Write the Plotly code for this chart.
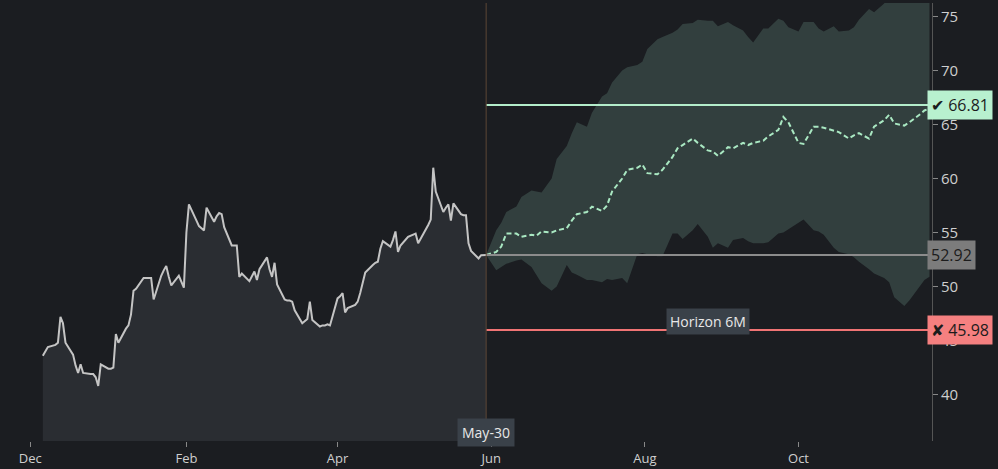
import pandas as pd
import plotly.graph_objects as go

# daily closes, Dec-2023 .. May-30-2024
price = [43.6, 44.0, 44.4, 44.6, 44.8, 47.2, 46.6, 44.8, 43.7, 42.7,
         42.0, 42.8, 42.0, 41.9, 41.9, 41.6, 40.8, 42.8, 42.4, 42.4,
         42.5, 45.6, 44.8, 46.1, 46.4, 47.4, 49.6, 49.8, 50.8, 50.8,
         50.8, 50.8, 48.8, 51.0, 51.5, 51.9, 50.9, 50.1, 51.0, 50.4,
         49.9, 55.0, 57.6, 56.1, 55.6, 55.4, 55.2, 57.3, 56.0, 56.5,
         56.8, 56.7, 55.5, 53.8, 53.8, 53.8, 50.9, 51.2, 50.5, 51.0,
         51.4, 50.6, 51.6, 52.7, 51.6, 50.9, 52.2, 50.2, 48.8, 48.7,
         48.7, 48.6, 47.8, 46.6, 46.8, 47.0, 48.6, 46.9, 46.3, 46.4,
         46.4, 46.5, 46.4, 48.9, 49.1, 49.4, 47.6, 48.0, 48.3, 48.6,
         49.4, 50.4, 51.3, 52.0, 52.2, 52.3, 53.5, 54.2, 53.7, 54.3,
         55.1, 53.2, 53.8, 54.6, 54.7, 54.8, 54.9, 54.0, 55.2, 55.7,
         56.2, 61.0, 58.8, 56.9, 57.3, 57.6, 56.1, 57.7, 56.7, 56.6,
         56.6, 54.0, 53.3, 52.6, 52.9, 52.9, 52.92]

# 6M simulated path: every 2nd trading day from May-30
band_hi = [52.92, 55.2, 55.9, 56.9, 57.4, 58.3, 58.9, 58.8, 58.7, 60.0,
           61.8, 63.0, 64.2, 65.2, 64.8, 66.1, 67.6, 67.9, 68.9, 70.0,
           70.3, 70.5, 70.8, 72.0, 72.9, 73.1, 73.5, 73.8, 74.3, 74.4,
           74.7, 74.6, 74.6, 74.1, 74.5, 74.2, 73.7, 73.1, 72.6, 73.9,
           73.9, 74.8, 74.6, 74.0, 73.6, 74.5, 74.5, 73.9, 73.6, 74.1,
           73.6, 73.7, 74.0, 74.7, 75.7, 75.4, 76.2, 77.0, 77.5, 77.8,
           78.0, 78.2, 78.5, 78.8]
band_lo = [52.92, 51.5, 51.8, 52.1, 52.4, 52.5, 51.8, 51.0, 50.3, 49.6,
           50.0, 52.0, 51.3, 51.1, 50.6, 50.6, 50.4, 50.7, 50.6, 50.8,
           50.3, 53.0, 53.1, 53.0, 52.8, 52.8, 54.9, 54.9, 54.4, 55.2,
           55.8, 54.6, 53.6, 54.0, 53.6, 54.3, 54.5, 54.2, 54.0, 54.0,
           54.1, 54.9, 55.0, 55.3, 55.9, 56.2, 55.2, 55.1, 54.8, 53.6,
           53.2, 53.0, 52.7, 52.3, 51.6, 51.2, 50.8, 50.4, 49.0, 48.2,
           48.7, 49.9, 50.6, 50.9]
median = [52.92, 53.2, 53.7, 54.9, 54.9, 54.6, 54.8, 54.7, 55.1, 55.0,
          55.2, 55.4, 56.1, 56.7, 56.9, 57.4, 57.0, 57.5, 58.8, 60.0,
          60.8, 61.0, 61.3, 60.5, 60.4, 60.8, 62.0, 62.8, 63.1, 63.7,
          63.3, 62.6, 62.5, 62.1, 62.9, 62.8, 63.3, 63.1, 63.3, 63.5,
          63.9, 64.5, 65.7, 65.2, 63.3, 63.2, 64.8, 64.8, 64.7, 64.4,
          64.3, 63.7, 64.0, 64.2, 63.7, 64.8, 65.4, 65.9, 65.1, 64.9,
          65.2, 65.9, 66.3, 66.5]

last_date = "2024-05-30"
last_price = 52.92
target_up = 66.81
target_down = 45.98
x_range = ["2023-11-19", "2024-11-23"]
y_range = [35.7, 76.25]

bg = "#1b1d21"

price_dates = pd.bdate_range(end=last_date, periods=len(price))
fc_dates = pd.bdate_range(start=last_date, periods=len(median), freq="2B")
fc_end = fc_dates[-1]

fig = go.Figure()

# history
fig.add_trace(go.Scatter(x=price_dates, y=price, mode="lines",
                         line=dict(color="#c4c4c4", width=2),
                         fill="tozeroy", fillcolor="#2a2d32"))

# forecast band + median
fig.add_trace(go.Scatter(x=fc_dates, y=band_hi, mode="lines",
                         line=dict(width=0), hoverinfo="skip"))
fig.add_trace(go.Scatter(x=fc_dates, y=band_lo, mode="lines",
                         line=dict(width=0), fill="tonexty",
                         fillcolor="#323f3e", hoverinfo="skip"))
fig.add_trace(go.Scatter(x=fc_dates, y=median, mode="lines",
                         line=dict(color="#a9e8c2", width=2, dash="5px,3px")))

# level lines
for lvl, col in [(target_up, "#b3ecca"), (last_price, "#8c8c8c"), (target_down, "#f07474")]:
    fig.add_shape(type="line", xref="x", yref="y", x0=last_date, x1=fc_end,
                  y0=lvl, y1=lvl, line=dict(color=col, width=2))

# today marker
fig.add_shape(type="line", xref="x", yref="paper", x0=last_date, x1=last_date,
              y0=0, y1=1, line=dict(color="#5c4636", width=1))

# right-side value tags
tags = [(target_up, "\u2714 66.81", "#b8f0cf"),
        (last_price, "52.92", "#7c7c7c"),
        (target_down, "\u2718 45.98", "#f58080")]
for lvl, txt, col in tags:
    fig.add_annotation(x=1, xref="paper", y=lvl, yref="y", text=txt,
                       showarrow=False, xanchor="left", yanchor="middle",
                       xshift=-5, bgcolor=col, borderpad=3,
                       font=dict(size=16, color="#1c1c1c"))

fig.add_annotation(x=pd.Timestamp(last_date) + (fc_end - pd.Timestamp(last_date)) / 2,
                   xref="x", y=target_down, yref="y", text="Horizon 6M",
                   showarrow=False, yanchor="middle", yshift=8,
                   bgcolor="#3a4149", borderpad=3,
                   font=dict(size=14, color="#e8e8e8"))

fig.add_annotation(x=last_date, xref="x", y=0, yref="paper", text="May-30",
                   showarrow=False, yanchor="middle", yshift=9,
                   bgcolor="#3a4149", borderpad=4,
                   font=dict(size=14, color="#e8e8e8"))

fig.update_layout(
    width=998, height=469,
    margin=dict(l=0, r=66, t=3, b=28),
    paper_bgcolor=bg, plot_bgcolor=bg,
    showlegend=False,
    font=dict(family="Open Sans", color="#cfcfcf"),
    xaxis=dict(range=x_range, showgrid=False, zeroline=False,
               tick0="2023-12-01", dtick="M2", tickformat="%b",
               ticks="outside", ticklen=5, tickcolor="#888",
               tickfont=dict(size=13, color="#cfcfcf")),
    yaxis=dict(range=y_range, side="right", showgrid=False, zeroline=False,
               dtick=5, ticks="outside", ticklen=5, tickcolor="#888",
               showline=True, linecolor="#555", linewidth=1,
               tickfont=dict(size=15, color="#cfcfcf")),
)

# page has a default 8px body margin; drop it so the figure fills the window
fig.write_html("out.html", config={"displayModeBar": False},
               post_script="document.body.style.margin='0';document.body.style.background='%s';" % bg)
